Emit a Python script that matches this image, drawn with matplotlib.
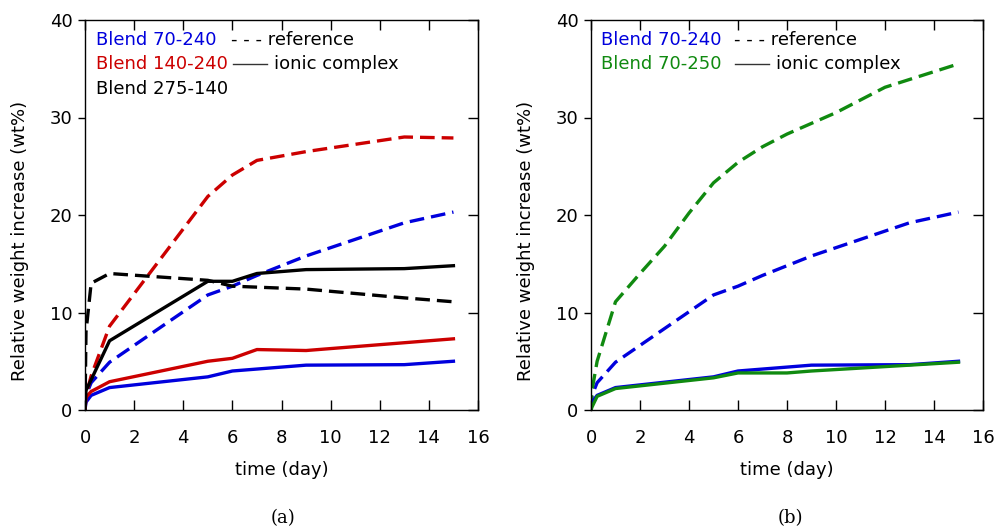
import matplotlib
matplotlib.use("Agg")
import matplotlib.pyplot as plt

plt.rcParams['font.family'] = ['DejaVu Sans']

# ---- data (a) ----
t_a = [0, 0.04, 0.25, 1, 5, 6, 7, 9, 13, 15]
blue_ref = [0, 1.5, 2.8, 4.9, 11.8, 12.7, 13.8, 15.8, 19.2, 20.3]
blue_ion = [0, 0.8, 1.5, 2.3, 3.4, 4.0, 4.2, 4.6, 4.65, 5.0]
red_ref = [0, 1.5, 3.5, 8.6, 21.9, 24.1, 25.6, 26.5, 28.0, 27.9]
red_ion = [0, 1.3, 1.9, 2.9, 5.0, 5.3, 6.2, 6.1, 6.9, 7.3]
black_ref = [0, 8.0, 13.0, 14.0, 13.3, 12.7, 12.6, 12.4, 11.5, 11.1]
black_ion = [0, 2.0, 3.1, 7.1, 13.2, 13.2, 14.0, 14.4, 14.5, 14.8]

# ---- data (b) ----
t_green_ref = [0, 0.04, 0.25, 1, 2, 3, 4, 5, 6, 7, 8, 10, 12, 13, 15]
green_ref = [0, 2.0, 5.0, 11.1, 14.0, 16.8, 20.2, 23.3, 25.4, 27.0, 28.3, 30.5, 33.1, 33.9, 35.5]
t_green_ion = [0, 0.04, 0.25, 1, 5, 6, 8, 9, 13, 15]
green_ion = [0, 0.3, 1.4, 2.2, 3.3, 3.8, 3.8, 4.0, 4.6, 4.9]

xticks = [0, 2, 4, 6, 8, 10, 12, 14, 16]
yticks = [0, 10, 20, 30, 40]

BLUE = '#0000dd'
RED = '#cc0000'
GREEN = '#108a10'
BLACK = '#000000'
LW = 2.4
DASH = (0, (4.4, 2.1))
FS = 13

fig = plt.figure(figsize=(9.97, 5.30), dpi=100)
axA = fig.add_axes([85/997, 120/530, 393/997, 390/530])
axB = fig.add_axes([591/997, 120/530, 392/997, 390/530])

axA.plot(t_a, blue_ref, color=BLUE, lw=LW, ls=DASH)
axA.plot(t_a, red_ref, color=RED, lw=LW, ls=DASH)
axA.plot(t_a, black_ref, color=BLACK, lw=LW, ls=DASH)
axA.plot(t_a, blue_ion, color=BLUE, lw=LW)
axA.plot(t_a, red_ion, color=RED, lw=LW)
axA.plot(t_a, black_ion, color=BLACK, lw=LW)

axB.plot(t_a, blue_ref, color=BLUE, lw=LW, ls=DASH)
axB.plot(t_green_ref, green_ref, color=GREEN, lw=LW, ls=DASH)
axB.plot(t_a, blue_ion, color=BLUE, lw=LW)
axB.plot(t_green_ion, green_ion, color=GREEN, lw=LW)

for ax, w in ((axA, 393), (axB, 392)):
    ax.set_xlim(0, 16)
    ax.set_ylim(0, 40)
    ax.set_xticks(xticks)
    ax.set_yticks(yticks)
    ax.tick_params(axis='x', direction='in', top=True, length=7, width=1, labelsize=FS, pad=14)
    ax.tick_params(axis='y', which='both', left=True, right=False, direction='out', length=5, width=1, labelsize=FS, pad=4)
    axr = ax.secondary_yaxis('right')
    axr.set_yticks(yticks)
    axr.tick_params(direction='in', length=7, width=1, labelright=False)
    for s in ax.spines.values():
        s.set_linewidth(1.0)
    ax.set_xlabel('time (day)', fontsize=FS, labelpad=10)
    ax.set_ylabel('Relative weight increase (wt%)', fontsize=FS)
    ax.yaxis.set_label_coords(-56 / w, (410 - 241) / 390)

def legend_text(ax, x, y, s, c):
    ax.text(x, y, s, color=c, fontsize=FS, transform=ax.transAxes, va='center', ha='left')

def ax_xy(px, py, x0, w):
    return (px - x0) / w, (410 - py) / 390

legend_text(axA, *ax_xy(96, 40, 85, 393), 'Blend 70-240', BLUE)
legend_text(axA, *ax_xy(231, 40, 85, 393), '- - - reference', BLACK)
legend_text(axA, *ax_xy(96, 64, 85, 393), 'Blend 140-240', RED)
x1, y1 = ax_xy(233, 64, 85, 393)
x2, _ = ax_xy(267, 64, 85, 393)
axA.plot([x1, x2], [y1, y1], color='#333333', lw=1.0, transform=axA.transAxes)
legend_text(axA, *ax_xy(274, 64, 85, 393), 'ionic complex', BLACK)
legend_text(axA, *ax_xy(96, 89, 85, 393), 'Blend 275-140', BLACK)

legend_text(axB, *ax_xy(601, 40, 591, 392), 'Blend 70-240', BLUE)
legend_text(axB, *ax_xy(734, 40, 591, 392), '- - - reference', BLACK)
legend_text(axB, *ax_xy(601, 64, 591, 392), 'Blend 70-250', GREEN)
x1, y1 = ax_xy(735, 64, 591, 392)
x2, _ = ax_xy(769, 64, 591, 392)
axB.plot([x1, x2], [y1, y1], color='#333333', lw=1.0, transform=axB.transAxes)
legend_text(axB, *ax_xy(776, 64, 591, 392), 'ionic complex', BLACK)

fig.text(283/997, 1 - 518/530, '(a)', fontsize=13, family='DejaVu Serif', ha='center', va='center')
fig.text(790/997, 1 - 518/530, '(b)', fontsize=13, family='DejaVu Serif', ha='center', va='center')

fig.savefig('out.png', dpi=100)
